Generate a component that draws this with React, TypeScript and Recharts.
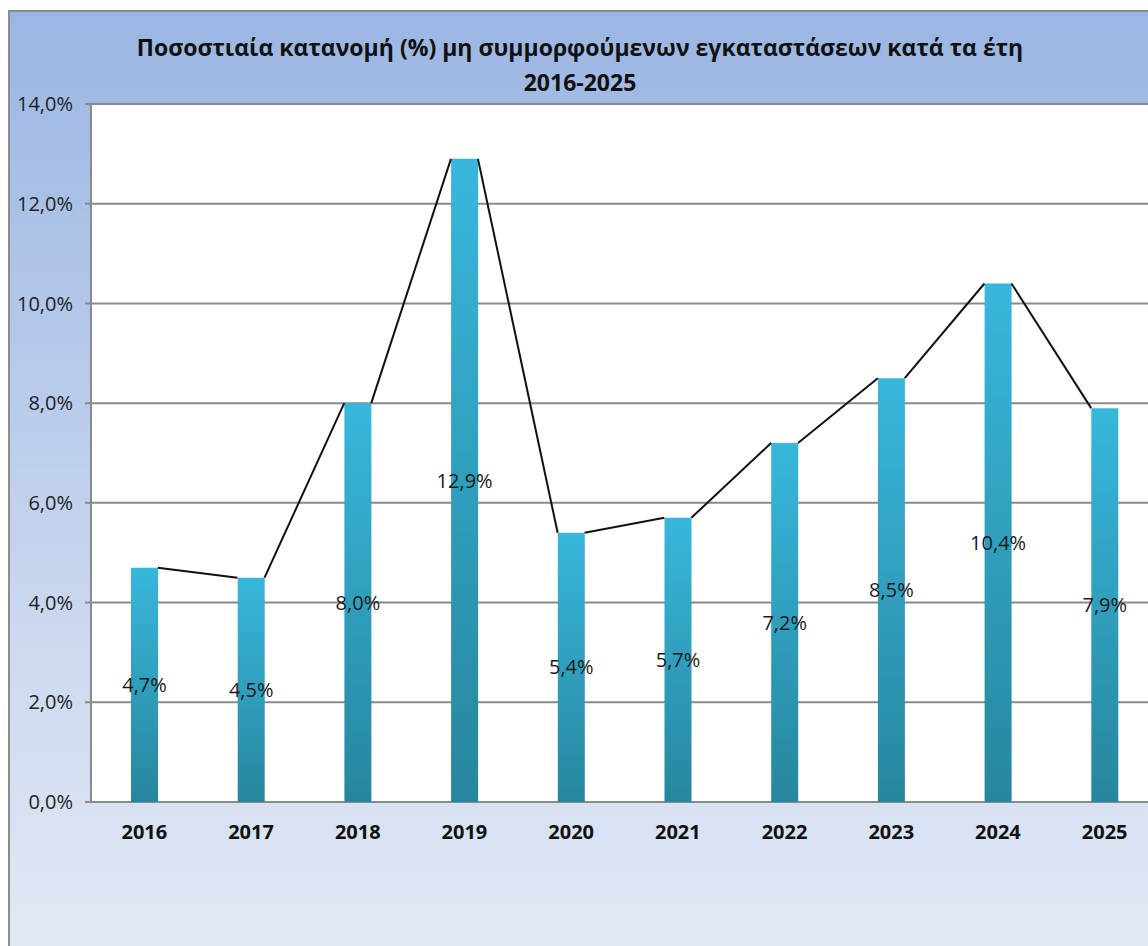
import React from 'react';
import { ComposedChart, Bar, Line, XAxis, YAxis, CartesianGrid, LabelList } from 'recharts';

const years = ['2016', '2017', '2018', '2019', '2020', '2021', '2022', '2023', '2024', '2025'];
const shares = [4.7, 4.5, 8.0, 12.9, 5.4, 5.7, 7.2, 8.5, 10.4, 7.9];
const yTicks = [0, 2, 4, 6, 8, 10, 12, 14];

const data = years.map((year, i) => ({ year, share: shares[i] }));

const BAR_W = 27;
const FONT = '"Open Sans", "Noto Sans", sans-serif';

const pct = (v: number) => `${v.toFixed(1).replace('.', ',')}%`;

// Excel-style series lines: from the top right corner of a bar to the top left of the next one
const SeriesLineDot = (props: any) => {
  const { index, points } = props;
  if (!points || index >= points.length - 1) return <g key={`sl-${index}`} />;
  const a = points[index];
  const b = points[index + 1];
  return (
    <line
      key={`sl-${index}`}
      x1={a.x + BAR_W / 2}
      y1={a.y}
      x2={b.x - BAR_W / 2}
      y2={b.y}
      stroke="#111"
      strokeWidth={2}
    />
  );
};

export default function App() {
  return (
    <>
      <style>{`body{margin:0;overflow:hidden}`}</style>
      <div
        style={{
          position: 'absolute',
          left: 8,
          top: 10,
          width: 1170,
          height: 960,
          border: '2px solid #8c8c8c',
          background: 'linear-gradient(to bottom, #9bb6e3 0%, #cfdbf0 70%, #e3e9f5 100%)',
          fontFamily: FONT,
          overflow: 'hidden',
        }}
      >
        <div
          style={{
            position: 'absolute',
            left: 0,
            top: 18,
            width: 1140,
            textAlign: 'center',
            fontWeight: 700,
            fontSize: 23,
            lineHeight: '35px',
            color: '#111',
          }}
        >
          Ποσοστιαία κατανομή (%) μη συμμορφούμενων εγκαταστάσεων κατά τα έτη
          <br />
          2016-2025
        </div>
        <div style={{ position: 'absolute', left: 0, top: 0 }}>
          <ComposedChart
            width={1170}
            height={900}
            data={data}
            margin={{ top: 92, right: 22, bottom: 70, left: 0 }}
          >
            <defs>
              <linearGradient id="barFill" x1="0" y1="0" x2="0" y2="1">
                <stop offset="0%" stopColor="#38b7dc" />
                <stop offset="100%" stopColor="#27869e" />
              </linearGradient>
            </defs>
            <CartesianGrid vertical={false} stroke="#8a8a8a" strokeWidth={2} fill="#ffffff" />
            <XAxis
              dataKey="year"
              axisLine={false}
              tickLine={false}
              height={40}
              tick={{ fill: '#111', fontSize: 20, fontWeight: 700, fontFamily: FONT }}
              dy={15}
            />
            <YAxis
              domain={[0, 14]}
              ticks={yTicks}
              width={81}
              interval={0}
              tickFormatter={pct}
              axisLine={{ stroke: '#8a8a8a', strokeWidth: 2 }}
              tickLine={{ stroke: '#8a8a8a', strokeWidth: 2 }}
              tickSize={6}
              tick={{ fill: '#222', fontSize: 20, fontFamily: FONT }}
              dx={-10}
            />
            <Bar dataKey="share" fill="url(#barFill)" barSize={BAR_W} isAnimationActive={false}>
              <LabelList
                dataKey="share"
                position="center"
                formatter={(v: any) => pct(Number(v))}
                style={{ fill: '#1a1a1a', fontSize: 20, fontFamily: FONT }}
              />
            </Bar>
            <Line
              dataKey="share"
              stroke="none"
              dot={SeriesLineDot}
              activeDot={false}
              isAnimationActive={false}
            />
          </ComposedChart>
        </div>
      </div>
    </>
  );
}
